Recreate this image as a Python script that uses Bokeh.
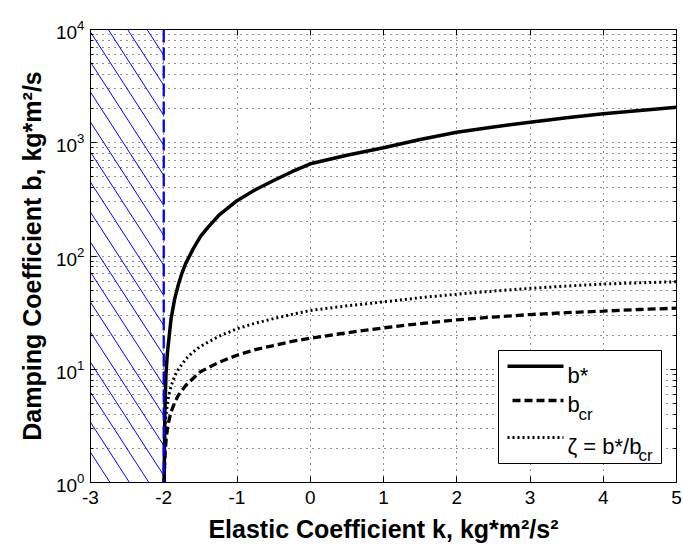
import numpy as np
from bokeh.plotting import figure
from bokeh.models import (FixedTicker, LinearAxis, LogAxis, Range1d, Span,
                          CustomJSTickFormatter, LogTickFormatter)
from bokeh.core.properties import value
from bokeh.embed import file_html
from bokeh.resources import INLINE

# ---------------- data ----------------
x_ticks = [-3, -2, -1, 0, 1, 2, 3, 4, 5]
y_ticks = [1, 10, 100, 1000, 10000]
y_minor = [m * 10 ** e for e in range(4) for m in range(2, 10)]

k_limit = -2.0  # forbidden region k < -2 (hatched)

k_star = [-1.995, -1.985, -1.97, -1.95, -1.9, -1.85, -1.8, -1.75, -1.7, -1.6, -1.5, -1.4,
          -1.25, -1.0, -0.75, -0.5, -0.25, 0.0, 0.5, 1.0, 1.5, 2.0, 2.5, 3.0, 3.5, 4.0, 4.5, 5.0]
b_star = [1.0, 4.0, 9.0, 14.0, 28.0, 42.0, 56.0, 71.0, 86.0, 115.0, 148.0, 178.0,
          228.0, 308.0, 385.0, 464.0, 555.0, 652.0, 775.0, 902.0, 1070.0, 1240.0, 1380.0,
          1515.0, 1660.0, 1800.0, 1930.0, 2060.0]

k_cr = [-1.995, -1.99, -1.98, -1.97, -1.95, -1.93, -1.9, -1.85, -1.8, -1.7, -1.6, -1.5,
        -1.25, -1.0, -0.75, -0.5, -0.25, 0.0, 0.5, 1.0, 1.5, 2.0, 2.5, 3.0, 3.5, 4.0, 4.5, 5.0]
b_cr = [1.0, 1.3, 1.9, 2.3, 3.0, 3.5, 4.2, 5.1, 5.9, 7.2, 8.3, 9.5,
        11.5, 13.3, 14.9, 16.2, 17.6, 18.8, 21.0, 23.2, 25.3, 27.3, 28.9, 30.4, 31.6, 32.6,
        33.7, 34.6]

k_zeta = [-1.99, -1.98, -1.97, -1.95, -1.93, -1.9, -1.85, -1.8, -1.7, -1.6, -1.5, -1.25,
          -1.0, -0.75, -0.5, -0.25, 0.0, 0.5, 1.0, 1.5, 2.0, 2.5, 3.0, 3.5, 4.0, 4.5, 5.0]
zeta = [2.2, 3.2, 3.9, 5.0, 5.9, 7.1, 8.7, 10.0, 12.3, 14.2, 15.9, 19.5,
        22.8, 25.5, 28.0, 30.5, 33.0, 36.3, 39.3, 42.8, 46.0, 49.0, 51.8, 54.3, 56.5, 58.0, 59.2]

# ---------------- layout constants ----------------
FONT = "Liberation Sans"
X0, X1 = -3.0, 5.0
LOG0, LOG1 = 0.0, 4.0
FRAME_L, FRAME_T, FRAME_W, FRAME_H = 90, 29, 586, 453


def px_x(px):
    return X0 + (px - FRAME_L) / FRAME_W * (X1 - X0)


def px_y(py):
    return 10 ** (LOG0 + (FRAME_T + FRAME_H - py) / FRAME_H * (LOG1 - LOG0))


p = figure(frame_width=FRAME_W, frame_height=FRAME_H,
           x_range=Range1d(X0, X1), y_range=Range1d(10 ** LOG0, 10 ** LOG1),
           y_axis_type="log", output_backend="svg", toolbar_location=None,
           min_border_left=FRAME_L, min_border_top=FRAME_T,
           min_border_right=7, min_border_bottom=69,
           background_fill_color="white", border_fill_color="white")
p.outline_line_color = "black"
p.outline_line_width = 1

xt = FixedTicker(ticks=x_ticks, minor_ticks=[])
yt = FixedTicker(ticks=y_ticks, minor_ticks=y_minor)

p.xaxis.ticker = xt
p.xgrid.ticker = xt
p.yaxis.ticker = yt
p.ygrid.ticker = yt

p.xaxis.formatter = CustomJSTickFormatter(code="return tick.toString();")
p.yaxis.formatter = LogTickFormatter()

for ax in (p.xaxis[0], p.yaxis[0]):
    ax.major_tick_in = 6
    ax.major_tick_out = 0
    ax.minor_tick_in = 3
    ax.minor_tick_out = 0
    ax.axis_line_color = "black"
    ax.major_tick_line_color = "black"
    ax.minor_tick_line_color = "black"
    ax.major_label_text_font = FONT
    ax.major_label_text_font_size = "19px"
    ax.major_label_text_color = "black"
    ax.axis_label_text_font = FONT
    ax.axis_label_text_font_size = "25px"
    ax.axis_label_text_font_style = "bold"
    ax.axis_label_text_color = "black"

p.xaxis.major_label_standoff = 8
p.xaxis.axis_label = "Elastic Coefficient k, kg*m²/s²"
p.xaxis.axis_label_standoff = 8
p.yaxis.major_label_standoff = 6
p.yaxis.axis_label = "Damping Coefficient b, kg*m²/s"
p.yaxis.axis_label_standoff = 7

top_ax = LinearAxis(ticker=xt, formatter=CustomJSTickFormatter(code="return '';"),
                    major_tick_in=6, major_tick_out=0, minor_tick_in=0, minor_tick_out=0,
                    major_label_text_font_size="0px", major_label_standoff=0,
                    axis_line_color="black")
right_ax = LogAxis(ticker=yt, formatter=CustomJSTickFormatter(code="return '';"),
                   major_tick_in=6, major_tick_out=0, minor_tick_in=3, minor_tick_out=0,
                   major_label_text_font_size="0px", major_label_standoff=0,
                   axis_line_color="black")
p.add_layout(top_ax, "above")
p.add_layout(right_ax, "right")

for g in (p.xgrid[0], p.ygrid[0]):
    g.grid_line_color = "#222222"
    g.grid_line_dash = "1 5"
    g.grid_line_width = 1
p.ygrid.minor_grid_line_color = "#222222"
p.ygrid.minor_grid_line_dash = "1 5"

# ---------------- hatched forbidden region (k < k_limit) ----------------
slope = 1.0     # decades per unit of k
step = 0.265    # spacing of hatch lines in k
x0s, y0s, x1s, y1s = [], [], [], []
for kt in np.arange(k_limit - 0.228, X0 - (LOG1 - LOG0) / slope - step, -step):
    a = max(X0, kt)
    b = min(k_limit, kt + (LOG1 - LOG0) / slope)
    if a < b:
        x0s.append(a); x1s.append(b)
        y0s.append(10 ** (LOG1 - slope * (a - kt)))
        y1s.append(10 ** (LOG1 - slope * (b - kt)))
p.segment(x0=x0s, y0=y0s, x1=x1s, y1=y1s, line_color="#0000ff", line_width=1)

# ---------------- curves ----------------
DOT = "2 3"
p.line(k_zeta, zeta, line_color="black", line_width=3, line_dash=DOT, line_cap="butt")
p.line(k_cr, b_cr, line_color="black", line_width=3.3, line_dash="8 4")
p.line(k_star, b_star, line_color="black", line_width=3.5, line_join="round")

p.add_layout(Span(location=k_limit, dimension="height", line_color="#0000ff",
                  line_width=2.3, line_dash="13 5"))

# ---------------- legend (custom, for subscripts) ----------------
LEG_L, LEG_R, LEG_T, LEG_B = 498, 661, 350, 463
p.quad(left=[px_x(LEG_L)], right=[px_x(LEG_R)], top=[px_y(LEG_T)], bottom=[px_y(LEG_B)],
       fill_color="white", line_color="black", line_width=1)
S_L, S_R = 507, 563
rows = [365.7, 400.0, 437.0]
p.line([px_x(S_L), px_x(S_R)], [px_y(rows[0])] * 2, line_color="black", line_width=3.5)
p.line([px_x(S_L + 5), px_x(S_R)], [px_y(rows[1])] * 2, line_color="black", line_width=3.3,
       line_dash="8 4")
p.line([px_x(S_L), px_x(S_R)], [px_y(rows[2])] * 2, line_color="black", line_width=3,
       line_dash=DOT, line_cap="butt")

T_X = 567
main_txt = ["b*", "b", "ζ = b*/b"]
main_base = [375, 404, 446]
p.text(x=[px_x(T_X)] * 3, y=[px_y(v) for v in main_base], text=main_txt,
       text_font=value(FONT), text_font_size="22px", text_color="black",
       text_baseline="alphabetic", text_align="left")
p.text(x=[px_x(578), px_x(638)], y=[px_y(414), px_y(455)], text=["cr", "cr"],
       text_font=value(FONT), text_font_size="17px", text_color="black",
       text_baseline="alphabetic", text_align="left")

open("out.html", "w").write(file_html(p, INLINE))
